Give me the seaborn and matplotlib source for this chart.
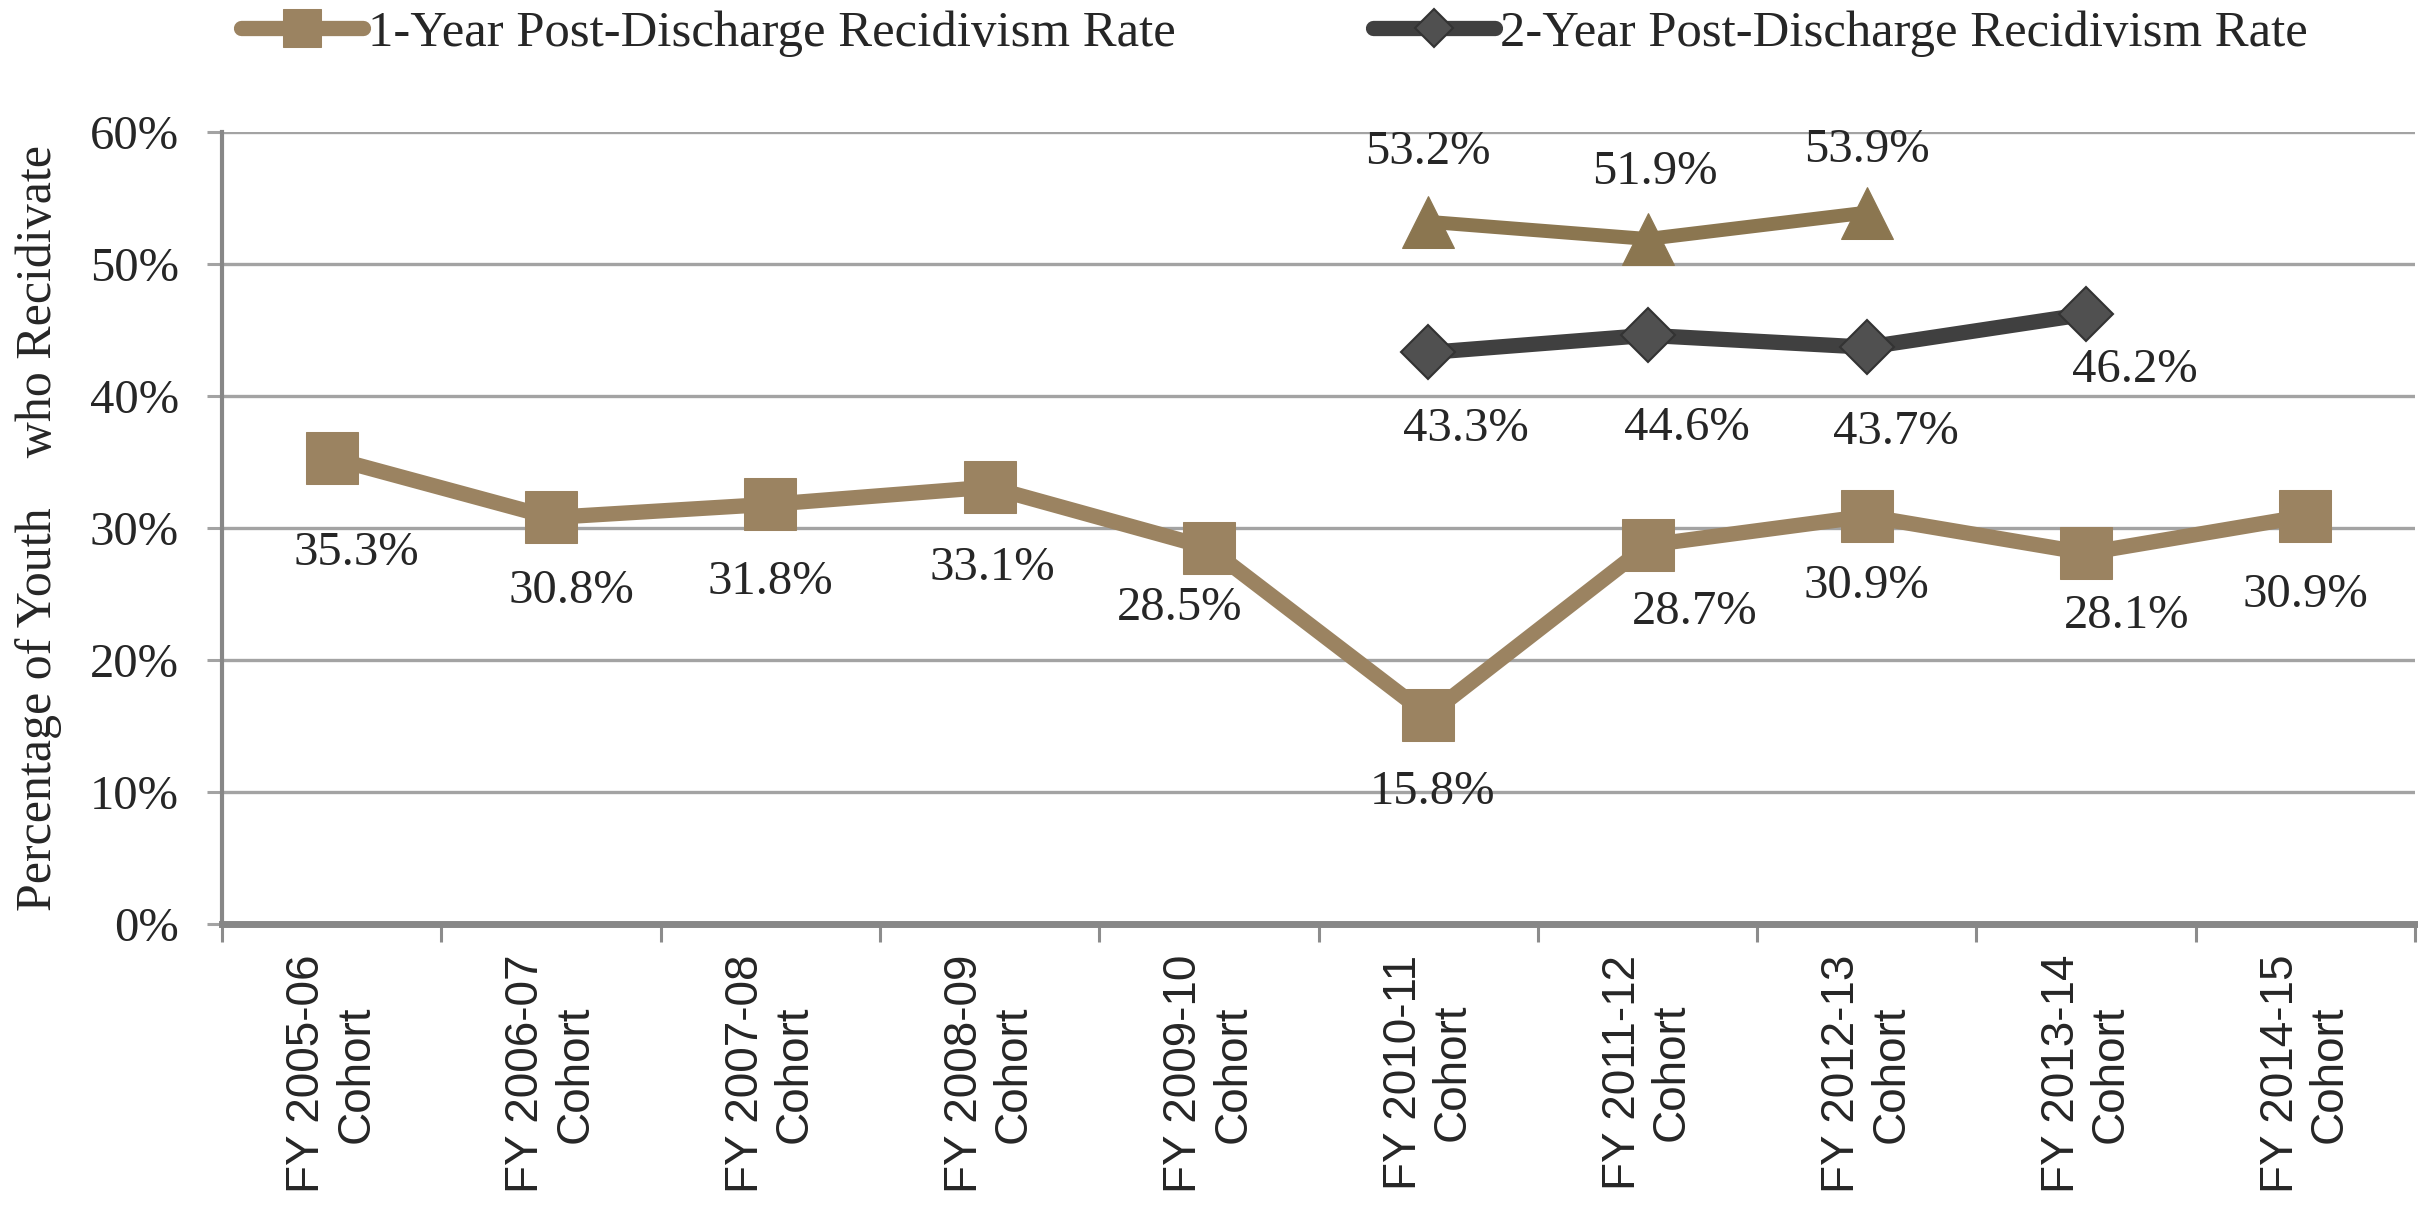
import numpy as np
import pandas as pd
import matplotlib
matplotlib.use('Agg')
import matplotlib.pyplot as plt
import seaborn as sns

# Данные с графика
cohorts = ['FY 2005-06\nCohort', 'FY 2006-07\nCohort', 'FY 2007-08\nCohort', 'FY 2008-09\nCohort',
           'FY 2009-10\nCohort', 'FY 2010-11\nCohort', 'FY 2011-12\nCohort', 'FY 2012-13\nCohort',
           'FY 2013-14\nCohort', 'FY 2014-15\nCohort']
one_year = [35.3, 30.8, 31.8, 33.1, 28.5, 15.8, 28.7, 30.9, 28.1, 30.9]
two_year = [np.nan, np.nan, np.nan, np.nan, np.nan, 43.3, 44.6, 43.7, 46.2, np.nan]
three_year = [np.nan, np.nan, np.nan, np.nan, np.nan, 53.2, 51.9, 53.9, np.nan, np.nan]
y_ticks = [0, 10, 20, 30, 40, 50, 60]

label_one = '1-Year Post-Discharge Recidivism Rate'
label_two = '2-Year Post-Discharge Recidivism Rate'

# смещения подписей (в пунктах)
off_one = [(18, -68), (15, -53), (0, -56), (2, -58), (-21, -43), (3, -55), (34, -48), (0, -50), (29, -45), (0, -57)]
off_two = {5: (27, -55), 6: (28, -67), 7: (21, -61), 8: (35, -40)}
off_three = {5: (0, 50), 6: (5, 48), 7: (0, 45)}

tan = '#9B8361'
tan_dark = '#8B7650'
dark = '#404040'

sns.set_style('white')
plt.rcParams['font.family'] = ['Liberation Serif', 'DejaVu Serif']

df = pd.DataFrame({'pos': np.arange(len(cohorts)), 'cohort': cohorts,
                   'one': one_year, 'two': two_year, 'three': three_year})

fig = plt.figure(figsize=(24.18, 12.06), dpi=100)
ax = fig.add_axes([0.0918, 0.2338, 0.907, 0.6567])

ax.set_axisbelow(True)
ax.yaxis.grid(True, color='#A3A3A3', linewidth=2.4)

sns.lineplot(data=df, x='pos', y='one', ax=ax, color=tan, linewidth=11, marker='s',
             markersize=38, markeredgecolor=tan, label=label_one, zorder=3)
sns.lineplot(data=df.dropna(subset=['two']), x='pos', y='two', ax=ax, color=dark, linewidth=11,
             marker='D', markersize=27, markerfacecolor='#505050', markeredgecolor='#333333',
             markeredgewidth=1.5, label=label_two, zorder=3)
sns.lineplot(data=df.dropna(subset=['three']), x='pos', y='three', ax=ax, color=tan_dark,
             linewidth=10, marker='^', markersize=38, markeredgecolor=tan_dark,
             label='_nolegend_', zorder=3)

# подписи значений
for i, v in enumerate(one_year):
    ax.annotate(f'{v:.1f}%', (i, v), xytext=off_one[i], textcoords='offset points',
                ha='center', va='center', fontsize=35)
for i, v in enumerate(two_year):
    if not np.isnan(v):
        ax.annotate(f'{v:.1f}%', (i, v), xytext=off_two[i], textcoords='offset points',
                    ha='center', va='center', fontsize=35)
for i, v in enumerate(three_year):
    if not np.isnan(v):
        ax.annotate(f'{v:.1f}%', (i, v), xytext=off_three[i], textcoords='offset points',
                    ha='center', va='center', fontsize=35)

ax.set_xlim(-0.5, len(cohorts) - 0.5)
ax.set_ylim(0, 60)
ax.set_yticks(y_ticks)
ax.set_yticklabels([f'{t}%' for t in y_ticks], fontsize=35)
ax.set_xticks(df['pos'])
ax.set_xticklabels(cohorts, rotation=90, fontsize=33, family=['Liberation Sans', 'DejaVu Sans'],
                   ha='center', va='top', multialignment='center', linespacing=1.15)
ax.set_xticks(np.arange(len(cohorts) + 1) - 0.5, minor=True)
ax.tick_params(axis='x', which='major', length=0, pad=22)
ax.tick_params(axis='x', which='minor', length=13, width=2.2, color='#8C8C8C', direction='out', bottom=True)
ax.tick_params(axis='y', length=11, width=2.2, color='#A3A3A3', direction='out', pad=20, left=True)

ax.set_xlabel('')
ax.set_ylabel('Percentage of Youth    who Recidivate', fontsize=36, labelpad=20)

sns.despine(ax=ax, top=True, right=True)
ax.spines['left'].set_color('#878787')
ax.spines['left'].set_linewidth(3)
ax.spines['bottom'].set_color('#878787')
ax.spines['bottom'].set_linewidth(5)

handles, labels = ax.get_legend_handles_labels()
ax.get_legend().remove()
fig.legend(handles, labels, loc='center', bbox_to_anchor=(0.527, 0.972), ncol=2, frameon=False,
           fontsize=36.5, handlelength=2.4, handletextpad=0.1, columnspacing=3.9, markerscale=0.72)

fig.savefig('out.png', dpi=100)
